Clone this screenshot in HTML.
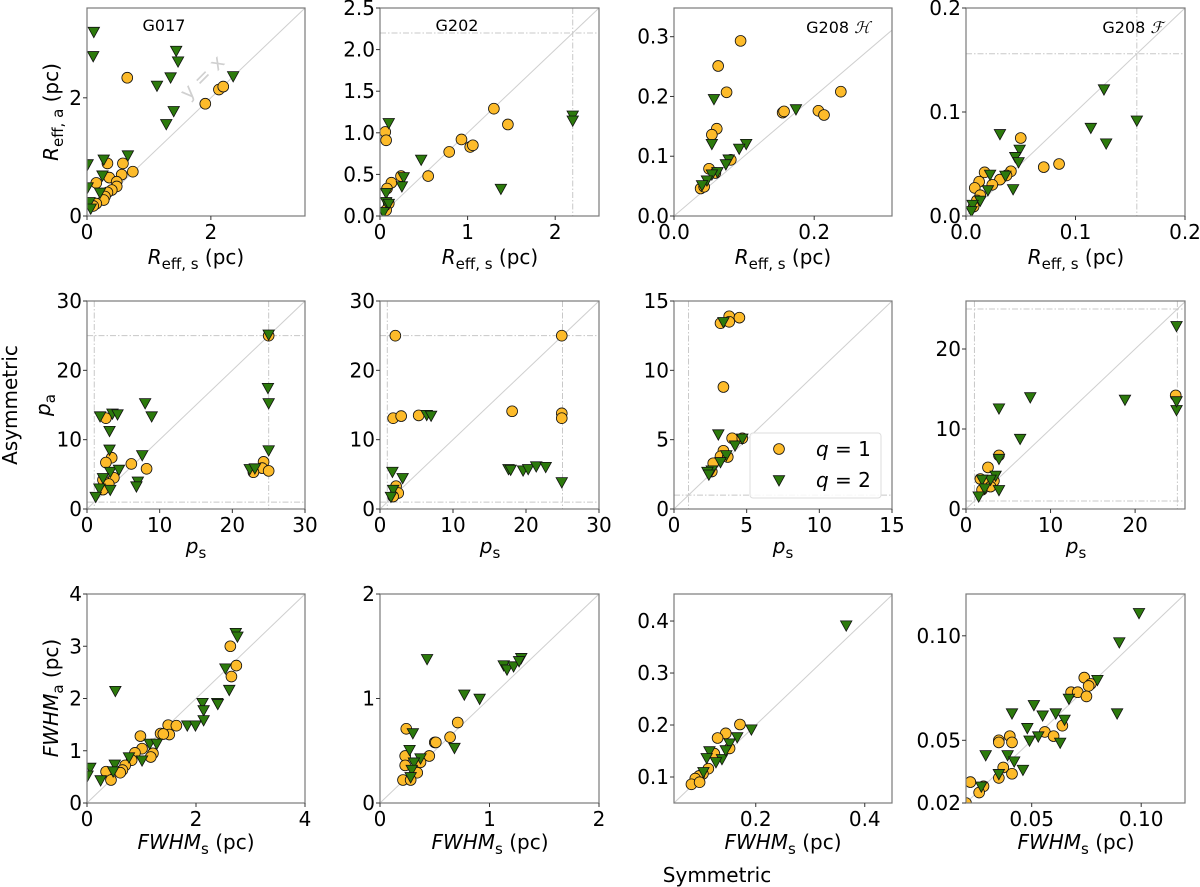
<!DOCTYPE html>
<html><head><meta charset="utf-8"><style>
html,body{margin:0;padding:0;background:#fff;}
svg{display:block;font-family:"DejaVu Sans","Liberation Sans",sans-serif;}
</style></head><body>
<svg id="fig" width="1200" height="887" viewBox="0 0 1200 887" xmlns="http://www.w3.org/2000/svg"></svg>
<script>
// ---- data (x = symmetric, y = asymmetric) ----
const reffG017Q1=[[0.65,2.34],[1.91,1.90],[2.13,2.14],[2.2,2.19],[0.33,0.89],[0.58,0.89],[0.74,0.75],[0.56,0.70],[0.36,0.65],[0.15,0.56],[0.48,0.58],[0.48,0.50],[0.40,0.44],[0.33,0.40],[0.29,0.33],[0.27,0.27],[0.15,0.21],[0.10,0.17]];
const reffG017Q2=[[0.11,3.12],[0.10,2.71],[1.44,2.80],[1.47,2.62],[1.35,2.35],[1.13,2.21],[2.36,2.37],[1.40,1.78],[1.28,1.56],[0.27,0.96],[0.66,1.03],[0.01,0.88],[0.25,0.69],[0.01,0.49],[0.21,0.40],[0.04,0.24],[0.06,0.13]];
const reffG202Q1=[[0.06,1.01],[0.07,0.91],[1.30,1.29],[1.46,1.10],[0.93,0.92],[1.03,0.83],[1.06,0.85],[0.79,0.77],[0.55,0.48],[0.24,0.48],[0.13,0.40],[0.08,0.33],[0.10,0.15],[0.07,0.07]];
const reffG202Q2=[[0.10,1.12],[0.47,0.68],[0.27,0.47],[0.25,0.36],[1.38,0.33],[2.2,1.21],[2.2,1.15],[0.07,0.28],[0.07,0.17],[0.10,0.15],[0.04,0.05]];
const reffG208HQ1=[[0.095,0.293],[0.063,0.251],[0.075,0.207],[0.061,0.146],[0.054,0.136],[0.155,0.173],[0.157,0.175],[0.206,0.176],[0.214,0.169],[0.238,0.208],[0.081,0.094],[0.050,0.079],[0.059,0.072],[0.038,0.046],[0.043,0.049]];
const reffG208HQ2=[[0.057,0.196],[0.054,0.121],[0.174,0.179],[0.103,0.121],[0.093,0.113],[0.078,0.095],[0.074,0.087],[0.062,0.074],[0.054,0.070],[0.047,0.060],[0.040,0.052]];
const reffG208FQ1=[[0.050,0.075],[0.071,0.047],[0.085,0.050],[0.041,0.043],[0.037,0.039],[0.031,0.035],[0.017,0.042],[0.012,0.033],[0.024,0.030],[0.008,0.027],[0.013,0.020],[0.010,0.015],[0.007,0.009]];
const reffG208FQ2=[[0.126,0.122],[0.156,0.092],[0.114,0.085],[0.128,0.070],[0.031,0.079],[0.049,0.064],[0.045,0.057],[0.048,0.052],[0.036,0.039],[0.022,0.040],[0.043,0.026],[0.020,0.025],[0.013,0.015],[0.006,0.011],[0.005,0.005]];
const pG017Q1=[[25,25],[2.6,13.1],[3.4,7.4],[2.6,6.7],[6.1,6.5],[8.2,5.8],[3.7,4.5],[2.2,4.2],[3.0,3.6],[2.2,2.8],[24.3,6.8],[24.1,5.9],[25,5.5],[22.9,5.3]];
const pG017Q2=[[25,25.2],[24.9,17.5],[25,15.3],[25,8.5],[1.8,13.4],[3.5,13.8],[4.2,13.7],[3.1,11.3],[3.1,8.6],[8.0,15.3],[8.9,13.4],[7.6,7.8],[7.0,4.0],[6.8,3.3],[3.2,5.4],[4.4,5.7],[2.2,4.5],[3.2,2.8],[1.7,3.0],[1.2,1.8],[22.4,5.8],[23.1,5.9]];
const pG202Q1=[[2.1,25.0],[24.9,25.0],[1.8,13.1],[2.9,13.4],[5.3,13.5],[18.1,14.1],[24.9,13.8],[24.9,13.1],[2.2,3.3],[2.5,2.3],[1.8,1.8]];
const pG202Q2=[[1.7,5.4],[3.1,4.5],[1.8,2.8],[1.5,1.8],[6.4,13.6],[7.0,13.5],[17.6,5.8],[17.9,5.7],[19.6,5.6],[20.3,5.8],[21.4,6.2],[22.7,6.1],[24.9,3.9]];
const pG208HQ1=[[3.2,13.4],[3.8,13.9],[3.8,13.5],[4.5,13.8],[3.4,8.8],[4.0,5.1],[4.7,5.1],[3.4,4.2],[3.2,3.8],[3.7,3.75],[2.7,3.3],[2.6,2.7]];
const pG208HQ2=[[3.4,13.5],[3.05,5.4],[4.2,4.6],[4.7,5.1],[3.6,3.9],[3.2,3.4],[2.6,2.8],[2.3,2.7],[2.4,2.5]];
const pG208FQ1=[[24.8,14.2],[3.9,6.7],[2.6,5.2],[1.7,3.75],[2.4,3.25],[3.3,3.5],[1.9,2.4],[2.9,2.8]];
const pG208FQ2=[[24.9,22.9],[24.9,12.4],[24.9,13.5],[7.6,14.0],[18.8,13.7],[3.9,12.6],[6.4,8.8],[3.9,6.3],[3.9,2.4],[3.5,4.2],[2.9,3.7],[1.9,3.7],[2.2,2.6],[1.5,1.6]];
const fwG017Q1=[[2.63,3.0],[2.74,2.63],[2.65,2.42],[1.49,1.49],[1.51,1.31],[1.64,1.48],[1.35,1.33],[1.40,1.32],[0.98,1.28],[1.01,1.04],[1.21,0.95],[1.17,0.88],[0.88,0.96],[0.82,0.82],[0.70,0.72],[0.65,0.63],[0.61,0.58],[0.35,0.60],[0.44,0.44]];
const fwG017Q2=[[2.73,3.26],[2.76,3.19],[2.54,2.58],[2.61,2.17],[0.52,2.15],[2.12,1.92],[2.14,1.78],[2.14,1.59],[2.39,1.92],[2.40,1.90],[1.84,1.49],[1.99,1.49],[1.15,1.14],[1.28,1.14],[0.77,0.88],[1.01,0.82],[0.51,0.74],[0.48,0.61],[0.06,0.68],[0.01,0.53],[0.25,0.44]];
const fwG202Q1=[[0.24,0.71],[0.71,0.77],[0.64,0.63],[0.50,0.58],[0.51,0.58],[0.45,0.45],[0.23,0.45],[0.23,0.36],[0.37,0.39],[0.34,0.29],[0.21,0.22],[0.28,0.22]];
const fwG202Q2=[[0.43,1.38],[1.13,1.32],[1.16,1.28],[1.22,1.31],[1.29,1.39],[1.27,1.36],[0.77,1.04],[0.91,1.00],[0.68,0.53],[0.30,0.67],[0.27,0.51],[0.37,0.43],[0.31,0.39],[0.29,0.32],[0.28,0.25]];
const fwG208HQ1=[[0.171,0.201],[0.145,0.184],[0.130,0.175],[0.152,0.155],[0.124,0.145],[0.113,0.116],[0.103,0.106],[0.096,0.102],[0.089,0.097],[0.082,0.086],[0.097,0.090]];
const fwG208HQ2=[[0.366,0.392],[0.192,0.192],[0.166,0.177],[0.152,0.165],[0.115,0.150],[0.110,0.137],[0.138,0.135],[0.127,0.129],[0.104,0.110],[0.145,0.152]];
const fwG208FQ1=[[0.074,0.080],[0.077,0.077],[0.076,0.076],[0.068,0.073],[0.071,0.073],[0.075,0.071],[0.064,0.057],[0.056,0.054],[0.060,0.052],[0.035,0.050],[0.040,0.052],[0.035,0.049],[0.041,0.049],[0.037,0.037],[0.035,0.032],[0.041,0.034],[0.022,0.030],[0.028,0.028],[0.026,0.025],[0.020,0.020]];
const fwG208FQ2=[[0.099,0.111],[0.090,0.097],[0.080,0.079],[0.089,0.063],[0.067,0.070],[0.065,0.060],[0.061,0.063],[0.055,0.062],[0.051,0.067],[0.041,0.063],[0.048,0.056],[0.063,0.049],[0.053,0.052],[0.049,0.050],[0.039,0.043],[0.042,0.040],[0.046,0.036],[0.029,0.043],[0.035,0.034],[0.027,0.028]];
// ---- tick values / labels ----
const r1p1Ticks=[0,2]; const r1p1Labels=["0","2"];
const r1p2XTicks=[0,1,2]; const r1p2XLabels=["0","1","2"];
const r1p2YTicks=[0,0.5,1,1.5,2,2.5]; const r1p2YLabels=["0.0","0.5","1.0","1.5","2.0","2.5"];
const r1p3XTicks=[0,0.2]; const r1p3XLabels=["0.0","0.2"];
const r1p3YTicks=[0,0.1,0.2,0.3]; const r1p3YLabels=["0.0","0.1","0.2","0.3"];
const r1p4Ticks=[0,0.1,0.2]; const r1p4Labels=["0.0","0.1","0.2"];
const r2p12Ticks=[0,10,20,30]; const r2p12Labels=["0","10","20","30"];
const r2p3Ticks=[0,5,10,15]; const r2p3Labels=["0","5","10","15"];
const r2p4Ticks=[0,10,20]; const r2p4Labels=["0","10","20"];
const r3p1Ticks=[0,2,4]; const r3p1Labels=["0","2","4"];
const r3p1YTicks=[0,1,2,3,4]; const r3p1YLabels=["0","1","2","3","4"];
const r3p2Ticks=[0,1,2]; const r3p2Labels=["0","1","2"];
const r3p3XTicks=[0.2,0.4]; const r3p3XLabels=["0.2","0.4"];
const r3p3YTicks=[0.1,0.2,0.3,0.4]; const r3p3YLabels=["0.1","0.2","0.3","0.4"];
const r3p4XTicks=[0.05,0.10]; const r3p4XLabels=["0.05","0.10"];
const r3p4YTicks=[0.02,0.05,0.10]; const r3p4YLabels=["0.02","0.05","0.10"];

const NS="http://www.w3.org/2000/svg";
const svg=document.getElementById('fig');
function mk(tag,attrs,parent){const e=document.createElementNS(NS,tag);for(const k in attrs)e.setAttribute(k,attrs[k]);(parent||svg).appendChild(e);return e;}
const ORANGE="#fdbb2a", GREEN="#2c7a0c";
const COLS=[[87,305],[380,599],[674,892],[966,1185]];
const ROWS=[[8,216],[301,509],[594,803]];

function panel(id,col,row,xd,yd,xt,xl,yt,yl,q1,q2,guides){
  const [px0,px1]=COLS[col],[py0,py1]=ROWS[row];
  const sx=v=>px0+(v-xd[0])/(xd[1]-xd[0])*(px1-px0);
  const sy=v=>py1-(v-yd[0])/(yd[1]-yd[0])*(py1-py0);
  const g=mk('g',{});
  
  
  const cp=mk('clipPath',{id:'c'+id},g);
  mk('rect',{x:px0,y:py0,width:px1-px0,height:py1-py0},cp);
  const inner=mk('g',{'clip-path':'url(#c'+id+')'},g);
  const lo=Math.max(xd[0],yd[0]), hi=Math.min(xd[1],yd[1]);
  const d=mk('line',{x1:sx(lo),y1:sy(lo),x2:sx(hi),y2:sy(hi),stroke:'#cfcfcf','stroke-width':1},inner);
  
  
  (guides||[]).forEach(v=>{
    const a=mk('line',{x1:sx(v),x2:sx(v),y1:py0,y2:py1,stroke:'#c8c8c8','stroke-width':1,'stroke-dasharray':'6,2,1.5,2'},inner);
    
    
    const b=mk('line',{x1:px0,x2:px1,y1:sy(v),y2:sy(v),stroke:'#c8c8c8','stroke-width':1,'stroke-dasharray':'6,2,1.5,2'},inner);
    
    
  });
  q1.forEach(p=>{
    const c=mk('circle',{cx:sx(p[0]),cy:sy(p[1]),r:5.4,fill:ORANGE,stroke:'#111','stroke-width':0.8},inner);
    
    
  });
  q2.forEach(p=>{
    const x=sx(p[0]),y=sy(p[1]);
    const t=mk('polygon',{points:`${x-5.7},${y-4.3} ${x+5.7},${y-4.3} ${x},${y+6}`,fill:GREEN,stroke:'#111','stroke-width':0.8},inner);
    
    
  });
  const fr=mk('rect',{x:px0,y:py0,width:px1-px0,height:py1-py0,fill:'none',stroke:'#7a7a7a','stroke-width':1.2},g);
  
  
  xt.forEach((v,i)=>{
    const x=sx(v);
    mk('line',{x1:x,x2:x,y1:py1,y2:py1+4,stroke:'#333','stroke-width':1},g);
    const t=mk('text',{x:x,y:py1+23,'text-anchor':'middle','font-size':20,fill:'#000'},g);
    t.textContent=xl[i];
    
    
  });
  yt.forEach((v,i)=>{
    const y=sy(v);
    mk('line',{x1:px0-4,x2:px0,y1:y,y2:y,stroke:'#333','stroke-width':1},g);
    const t=mk('text',{x:px0-5,y:y+7,'text-anchor':'end','font-size':20,fill:'#000'},g);
    t.textContent=yl[i];
    
    
  });
}

panel('g017-reff',0,0,[0,3.52],[0,3.52],r1p1Ticks,r1p1Labels,r1p1Ticks,r1p1Labels,reffG017Q1,reffG017Q2,[]);
panel('g202-reff',1,0,[0,2.5],[0,2.5],r1p2XTicks,r1p2XLabels,r1p2YTicks,r1p2YLabels,reffG202Q1,reffG202Q2,[2.2]);
panel('g208h-reff',2,0,[0,0.311],[0,0.348],r1p3XTicks,r1p3XLabels,r1p3YTicks,r1p3YLabels,reffG208HQ1,reffG208HQ2,[]);
panel('g208f-reff',3,0,[0,0.2],[0,0.2],r1p4Ticks,r1p4Labels,r1p4Ticks,r1p4Labels,reffG208FQ1,reffG208FQ2,[0.156]);
panel('g017-p',0,1,[0,30],[0,30],r2p12Ticks,r2p12Labels,r2p12Ticks,r2p12Labels,pG017Q1,pG017Q2,[1,25]);
panel('g202-p',1,1,[0,30],[0,30],r2p12Ticks,r2p12Labels,r2p12Ticks,r2p12Labels,pG202Q1,pG202Q2,[1,25]);
panel('g208h-p',2,1,[0,15],[0,15],r2p3Ticks,r2p3Labels,r2p3Ticks,r2p3Labels,pG208HQ1,pG208HQ2,[1]);
panel('g208f-p',3,1,[0,25.9],[0,26],r2p4Ticks,r2p4Labels,r2p4Ticks,r2p4Labels,pG208FQ1,pG208FQ2,[1,25]);
panel('g017-fwhm',0,2,[0,4],[0,4],r3p1Ticks,r3p1Labels,r3p1YTicks,r3p1YLabels,fwG017Q1,fwG017Q2,[]);
panel('g202-fwhm',1,2,[0,2],[0,2],r3p2Ticks,r3p2Labels,r3p2Ticks,r3p2Labels,fwG202Q1,fwG202Q2,[]);
panel('g208h-fwhm',2,2,[0.05,0.45],[0.05,0.452],r3p3XTicks,r3p3XLabels,r3p3YTicks,r3p3YLabels,fwG208HQ1,fwG208HQ2,[]);
panel('g208f-fwhm',3,2,[0.02,0.12],[0.02,0.12],r3p4XTicks,r3p4XLabels,r3p4YTicks,r3p4YLabels,fwG208FQ1,fwG208FQ2,[]);
</script>
<svg width="1200" height="887" style="position:absolute;left:0;top:0" xmlns="http://www.w3.org/2000/svg" font-family="DejaVu Sans, Liberation Sans, sans-serif">
  <text x="164" y="31" text-anchor="middle" font-size="16">G017</text>
  <text x="457" y="31" text-anchor="middle" font-size="16">G202</text>
  <text x="870" y="33" text-anchor="end" font-size="16">G208 <tspan font-style="italic" font-family="DejaVu Serif, serif">ℋ</tspan></text>
  <text x="1163" y="33" text-anchor="end" font-size="16">G208 <tspan font-style="italic" font-family="DejaVu Serif, serif">ℱ</tspan></text>
  <text x="207" y="82" font-size="20" fill="#d0d0d0" transform="rotate(-45 207 82)" text-anchor="middle">y = x</text>

  <g font-size="20" text-anchor="middle">
    <text x="196" y="264"><tspan font-style="italic">R</tspan><tspan font-size="15" dy="5">eff, s</tspan><tspan dy="-5"> (pc)</tspan></text>
    <text x="490" y="264"><tspan font-style="italic">R</tspan><tspan font-size="15" dy="5">eff, s</tspan><tspan dy="-5"> (pc)</tspan></text>
    <text x="783" y="264"><tspan font-style="italic">R</tspan><tspan font-size="15" dy="5">eff, s</tspan><tspan dy="-5"> (pc)</tspan></text>
    <text x="1076" y="264"><tspan font-style="italic">R</tspan><tspan font-size="15" dy="5">eff, s</tspan><tspan dy="-5"> (pc)</tspan></text>
    <text x="196" y="553"><tspan font-style="italic">p</tspan><tspan font-size="15" dy="5">s</tspan></text>
    <text x="490" y="553"><tspan font-style="italic">p</tspan><tspan font-size="15" dy="5">s</tspan></text>
    <text x="783" y="553"><tspan font-style="italic">p</tspan><tspan font-size="15" dy="5">s</tspan></text>
    <text x="1076" y="553"><tspan font-style="italic">p</tspan><tspan font-size="15" dy="5">s</tspan></text>
    <text x="196" y="849"><tspan font-style="italic">FWHM</tspan><tspan font-size="15" dy="5">s</tspan><tspan dy="-5"> (pc)</tspan></text>
    <text x="490" y="849"><tspan font-style="italic">FWHM</tspan><tspan font-size="15" dy="5">s</tspan><tspan dy="-5"> (pc)</tspan></text>
    <text x="783" y="849"><tspan font-style="italic">FWHM</tspan><tspan font-size="15" dy="5">s</tspan><tspan dy="-5"> (pc)</tspan></text>
    <text x="1076" y="849"><tspan font-style="italic">FWHM</tspan><tspan font-size="15" dy="5">s</tspan><tspan dy="-5"> (pc)</tspan></text>
  </g>
  <g font-size="20" text-anchor="middle">
    <text transform="translate(58 112) rotate(-90)"><tspan font-style="italic">R</tspan><tspan font-size="15" dy="5">eff, a</tspan><tspan dy="-5"> (pc)</tspan></text>
    <text transform="translate(50 405) rotate(-90)"><tspan font-style="italic">p</tspan><tspan font-size="15" dy="5">a</tspan></text>
    <text transform="translate(58 698) rotate(-90)"><tspan font-style="italic">FWHM</tspan><tspan font-size="15" dy="5">a</tspan><tspan dy="-5"> (pc)</tspan></text>
    <text transform="translate(17 405) rotate(-90)">Asymmetric</text>
    <text x="717" y="882">Symmetric</text>
  </g>
  <g>
    <rect x="750" y="433" width="131" height="65" rx="3" fill="#fff" fill-opacity="0.85" stroke="#ddd"/>
    <circle cx="779" cy="449" r="5.4" fill="#fdbb2a" stroke="#111" stroke-width="0.8"/>
    <text x="816" y="456" font-size="20"><tspan font-style="italic">q</tspan> = 1</text>
    <polygon points="773.3,475.7 784.7,475.7 779,486" fill="#2c7a0c" stroke="#111" stroke-width="0.8"/>
    <text x="816" y="487" font-size="20"><tspan font-style="italic">q</tspan> = 2</text>
  </g>
</svg>
</body></html>
